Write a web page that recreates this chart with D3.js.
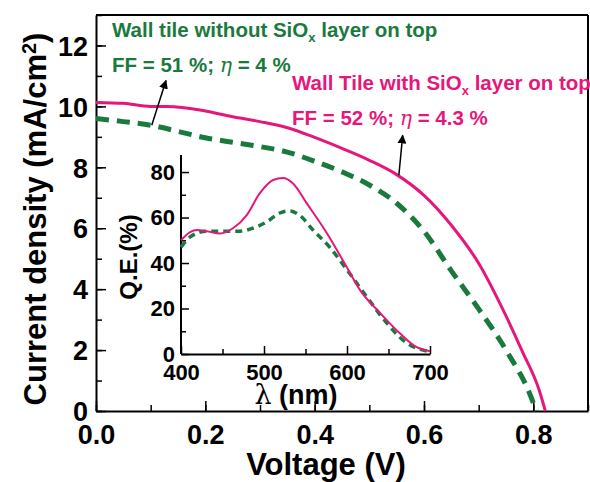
<!DOCTYPE html>
<html>
<head>
<meta charset="utf-8">
<script src="https://cdn.jsdelivr.net/npm/d3@7"></script>
<style>
  body { margin: 0; background: #fff; }
  svg text { font-family: "Liberation Sans", Arial, sans-serif; font-weight: bold; }
</style>
</head>
<body>
<div id="chart"></div>
<script>
// J-V curves (voltage in V, current density in mA/cm2)
var jvVoltageWith = [0, 0.05, 0.1, 0.13, 0.2, 0.25, 0.3, 0.35, 0.4, 0.45, 0.5, 0.55, 0.6, 0.65, 0.7, 0.75, 0.78, 0.81, 0.822];
var jvCurrentWith = [10.13, 10.1, 10.0, 10.0, 9.85, 9.66, 9.5, 9.3, 8.98, 8.62, 8.23, 7.76, 7.08, 6.1, 4.85, 3.12, 1.95, 0.72, 0];
var jvVoltageWithout = [0, 0.05, 0.1, 0.15, 0.2, 0.25, 0.3, 0.35, 0.4, 0.45, 0.5, 0.55, 0.6, 0.65, 0.7, 0.75, 0.8, 0.805];
var jvCurrentWithout = [9.6, 9.5, 9.38, 9.18, 8.97, 8.82, 8.68, 8.5, 8.2, 7.85, 7.42, 6.82, 5.9, 4.6, 3.35, 2.0, 0.26, 0];

// quantum efficiency inset (wavelength nm, QE %)
var qeWavelengthWith = [400, 411, 419, 431, 447, 463, 479, 495, 511, 523, 535, 552, 576, 600, 616, 640, 664, 684, 700];
var qeValueWith = [50, 53.6, 54.5, 54, 53, 55.4, 61, 70.7, 76.5, 77.4, 75, 66, 53, 38, 28, 18, 9, 3, 1.2];
var qeWavelengthWithout = [400, 411, 431, 455, 471, 487, 503, 519, 531, 543, 559, 579, 600, 624, 648, 672, 692, 700];
var qeValueWithout = [47, 51.5, 54, 54, 54, 55.4, 58, 62, 62.9, 61, 54.5, 47, 37, 25, 13.6, 4.8, 1.7, 1];

var xTicksMain = [0, 0.2, 0.4, 0.6, 0.8];
var yTicksMain = [0, 2, 4, 6, 8, 10, 12];
var xTicksInset = [400, 500, 600, 700];
var yTicksInset = [0, 20, 40, 60, 80];

var green = "#1a7a3e", pink = "#e6177b";

var width = 590, height = 482;
var svg = d3.select("#chart").append("svg")
    .attr("width", width)
    .attr("height", height);

// main scales
var x = d3.scaleLinear().domain([0, 0.9]).range([96, 588]);
var y = d3.scaleLinear().domain([0, 13]).range([411, 15]);

// inset scales
var xi = d3.scaleLinear().domain([400, 700]).range([181, 430]);
var yi = d3.scaleLinear().domain([0, 87.5]).range([354, 155]);

function drawAxis(g, axis, fontSize) {
    g.call(axis);
    g.select(".domain").attr("stroke", "#000").attr("stroke-width", 2);
    g.selectAll(".tick line").attr("stroke", "#000").attr("stroke-width", 1.5);
    g.selectAll(".tick text").attr("fill", "#000").attr("font-size", fontSize);
}

// main minor ticks
svg.append("g").attr("transform", "translate(0,411)")
    .call(d3.axisBottom(x).tickValues(d3.range(0, 0.95, 0.1)).tickSizeInner(-6).tickSizeOuter(0).tickFormat(""))
    .call(function (g) { g.select(".domain").remove(); g.selectAll("line").attr("stroke-width", 1.5); });
svg.append("g").attr("transform", "translate(96,0)")
    .call(d3.axisLeft(y).tickValues(d3.range(0, 13.5, 1)).tickSizeInner(-6).tickSizeOuter(0).tickFormat(""))
    .call(function (g) { g.select(".domain").remove(); g.selectAll("line").attr("stroke-width", 1.5); });

// main axes
var xAxisG = svg.append("g").attr("transform", "translate(0,411)");
drawAxis(xAxisG, d3.axisBottom(x).tickValues(xTicksMain).tickSizeInner(-10).tickSizeOuter(0).tickPadding(14).tickFormat(d3.format(".1f")), "27px");
var yAxisG = svg.append("g").attr("transform", "translate(96,0)");
drawAxis(yAxisG, d3.axisLeft(y).tickValues(yTicksMain).tickSizeInner(-10).tickSizeOuter(0).tickPadding(8), "27px");
yAxisG.selectAll(".tick text").attr("dy", "0.36em");

// frame top and right
svg.append("line").attr("x1", x(0)).attr("x2", x(0.9)).attr("y1", y(13)).attr("y2", y(13))
    .attr("stroke", "#000").attr("stroke-width", 2);
svg.append("line").attr("x1", x(0.9)).attr("x2", x(0.9)).attr("y1", y(13)).attr("y2", y(0))
    .attr("stroke", "#000").attr("stroke-width", 2);

// main curves
var jvLine = d3.line().x(function (d) { return x(d[0]); }).y(function (d) { return y(d[1]); }).curve(d3.curveMonotoneX);
svg.append("path").datum(d3.zip(jvVoltageWithout, jvCurrentWithout))
    .attr("d", jvLine).attr("fill", "none").attr("stroke", green)
    .attr("stroke-width", 5).attr("stroke-dasharray", "13,8");
svg.append("path").datum(d3.zip(jvVoltageWith, jvCurrentWith))
    .attr("d", jvLine).attr("fill", "none").attr("stroke", pink).attr("stroke-width", 3);

// inset minor ticks
svg.append("g").attr("transform", "translate(0,354)")
    .call(d3.axisBottom(xi).tickValues([450, 550, 650]).tickSizeInner(-5).tickSizeOuter(0).tickFormat(""))
    .call(function (g) { g.select(".domain").remove(); g.selectAll("line").attr("stroke-width", 1.5); });
svg.append("g").attr("transform", "translate(181,0)")
    .call(d3.axisLeft(yi).tickValues([10, 30, 50, 70]).tickSizeInner(-5).tickSizeOuter(0).tickFormat(""))
    .call(function (g) { g.select(".domain").remove(); g.selectAll("line").attr("stroke-width", 1.5); });

// inset axes
var xiAxisG = svg.append("g").attr("transform", "translate(0,354)");
drawAxis(xiAxisG, d3.axisBottom(xi).tickValues(xTicksInset).tickSizeInner(-8).tickSizeOuter(0).tickPadding(10), "22px");
var yiAxisG = svg.append("g").attr("transform", "translate(181,0)");
drawAxis(yiAxisG, d3.axisLeft(yi).tickValues(yTicksInset).tickSizeInner(-8).tickSizeOuter(0).tickPadding(6), "22px");
yiAxisG.select(".domain").attr("d", "M0," + yi(87.5) + "V" + yi(0));

var qeLine = d3.line().x(function (d) { return xi(d[0]); }).y(function (d) { return yi(d[1]); }).curve(d3.curveMonotoneX);
svg.append("path").datum(d3.zip(qeWavelengthWithout, qeValueWithout))
    .attr("d", qeLine).attr("fill", "none").attr("stroke", green)
    .attr("stroke-width", 3.5).attr("stroke-dasharray", "7,5");
svg.append("path").datum(d3.zip(qeWavelengthWith, qeValueWith))
    .attr("d", qeLine).attr("fill", "none").attr("stroke", pink).attr("stroke-width", 2);

// axis titles
var yTitle = svg.append("text").attr("transform", "translate(46,219) rotate(-90)")
    .attr("text-anchor", "middle").attr("font-size", "31px");
yTitle.append("tspan").text("Current density (mA/cm");
yTitle.append("tspan").attr("dy", "-0.5em").attr("font-size", "20px").text("2");
yTitle.append("tspan").attr("dy", "0.33em").text(")");
svg.append("text").attr("x", 326).attr("y", 475).attr("text-anchor", "middle")
    .attr("font-size", "31px").text("Voltage (V)");
svg.append("text").attr("transform", "translate(137,257) rotate(-90)")
    .attr("text-anchor", "middle").attr("font-size", "24px").text("Q.E.(%)");
var lam = svg.append("text").attr("x", 296).attr("y", 404).attr("text-anchor", "middle")
    .attr("font-size", "27px");
lam.append("tspan").attr("font-family", "DejaVu Serif").attr("font-weight", "normal").text("λ");
lam.append("tspan").text(" (nm)");

// legends
var t1 = svg.append("text").attr("x", 112).attr("y", 37).attr("fill", green).attr("font-size", "20.5px");
t1.append("tspan").text("Wall tile without SiO");
t1.append("tspan").attr("dy", 5).attr("font-size", "13px").text("x");
t1.append("tspan").attr("dy", -5).text(" layer on top");
var t2 = svg.append("text").attr("x", 112).attr("y", 72).attr("fill", green).attr("font-size", "20.5px");
t2.append("tspan").text("FF = 51 %; ");
t2.append("tspan").attr("font-style", "italic").attr("font-family", "DejaVu Serif").attr("font-weight", "normal").text("η");
t2.append("tspan").text(" = 4 %");

var t3 = svg.append("text").attr("x", 292).attr("y", 90).attr("fill", pink).attr("font-size", "20.5px");
t3.append("tspan").text("Wall Tile with SiO");
t3.append("tspan").attr("dy", 5).attr("font-size", "13px").text("x");
t3.append("tspan").attr("dy", -5).text(" layer on top");
var t4 = svg.append("text").attr("x", 292).attr("y", 125).attr("fill", pink).attr("font-size", "20.5px");
t4.append("tspan").text("FF = 52 %; ");
t4.append("tspan").attr("font-style", "italic").attr("font-family", "DejaVu Serif").attr("font-weight", "normal").text("η");
t4.append("tspan").text(" = 4.3 %");

// arrows
svg.append("defs").append("marker").attr("id", "arrow")
    .attr("viewBox", "0 0 10 10").attr("refX", 9).attr("refY", 5)
    .attr("markerWidth", 6).attr("markerHeight", 6).attr("orient", "auto")
    .append("path").attr("d", "M0,0L10,5L0,10z").attr("fill", "#000");
svg.append("line").attr("x1", x(0.102)).attr("y1", y(9.38)).attr("x2", x(0.128)).attr("y2", y(10.85))
    .attr("stroke", "#000").attr("stroke-width", 1.5).attr("marker-end", "url(#arrow)");
svg.append("line").attr("x1", x(0.554)).attr("y1", y(7.74)).attr("x2", x(0.561)).attr("y2", y(9.05))
    .attr("stroke", "#000").attr("stroke-width", 1.5).attr("marker-end", "url(#arrow)");
</script>
</body>
</html>
